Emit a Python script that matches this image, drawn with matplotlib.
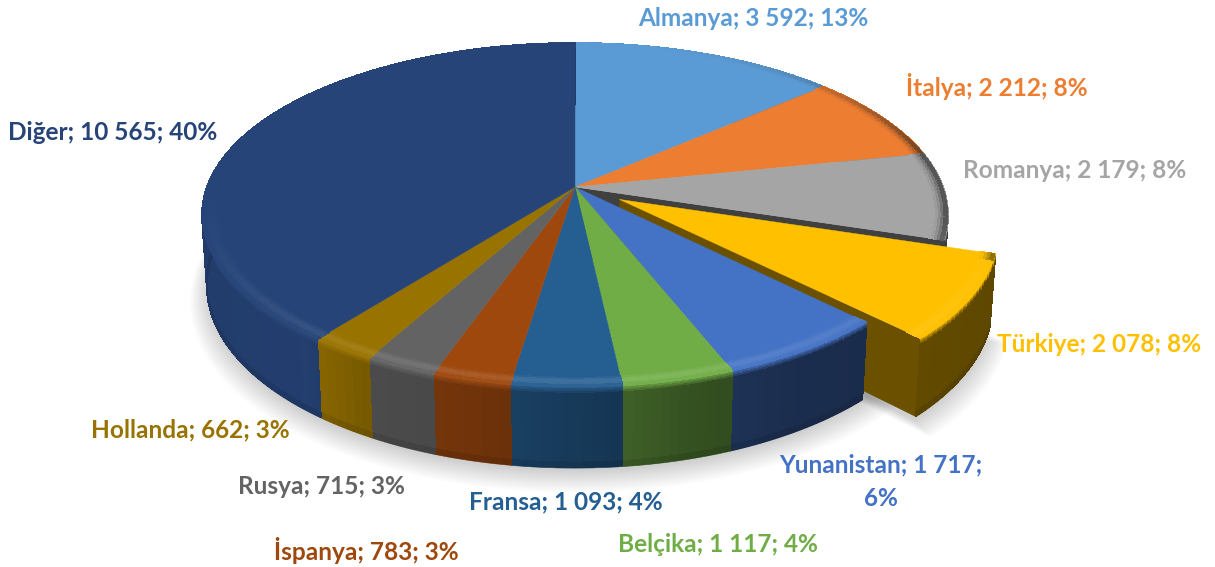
#!/usr/bin/env python3

import numpy as np
import matplotlib
matplotlib.use('Agg')
import matplotlib.pyplot as plt
from matplotlib.collections import PolyCollection
from matplotlib.colors import to_rgb

# Chart values
names  = ['Almanya', 'İtalya', 'Romanya', 'Türkiye', 'Yunanistan', 'Belçika',
          'Fransa', 'İspanya', 'Rusya', 'Hollanda', 'Diğer']
values = [3592, 2212, 2179, 2078, 1717, 1117, 1093, 783, 715, 662, 10565]
shares = [13, 8, 8, 8, 6, 4, 4, 3, 3, 3, 40]
colors = ['#5b9bd5', '#ed7d31', '#a5a5a5', '#ffc000', '#4472c4', '#70ad47',
          '#255e91', '#9e480e', '#636363', '#997300', '#264478']

# Where the labels sit (pixels)
label_x = [753, 997, 1075, 1099, 881, 718, 566, 366, 322, 190, 113]
label_y = [18, 86, 170, 344, 482, 544, 502, 550, 487, 430, 132]

EXPLODED = 3
EXPLODE_BY = 0.14

# Projection of the pie disc on the page
CX, CY = 575, 187
AX_U, AX_V = 368, 167.5
K = 0.163
DEPTH_M, DEPTH_H = 0.013, 71.4


def project(u, v, z=0.0):
    d = 1 + K * v + DEPTH_M * z
    return CX + AX_U * u / d, CY + (DEPTH_H * z - AX_V * v) / d


def arc(t0, t1, r=1.0, off=(0, 0), z=0.0, n=None):
    if n is None:
        n = max(3, int(abs(t1 - t0) * 60))
    t = np.linspace(t0, t1, n)
    return project(off[0] + r * np.sin(t), off[1] + r * np.cos(t), z)


def wall_factor(t):
    # how much light the side wall gets, by angle on the pie
    return np.interp(np.degrees(t), [90, 130, 150, 165, 178, 195, 208, 220, 270, 360],
                     [0.36, 0.38, 0.40, 0.47, 0.60, 0.72, 0.76, 0.92, 0.88, 0.88])


def mix(a, b, s):
    return tuple(np.array(a) * (1 - s) + np.array(b) * s)


def draw_wall(ax, t0, t1, color, off, zorder):
    base = np.array(to_rgb(color))

    # plain silhouette first so the outline stays smooth
    xt, yt = arc(t0, t1, off=off)
    xb, yb = arc(t0, t1, off=off, z=1.0)
    mid = tuple(base * wall_factor((t0 + t1) / 2))
    ax.fill(np.r_[xt, xb[::-1]], np.r_[yt, yb[::-1]], color=mid, lw=0.5, zorder=zorder)

    ts = np.linspace(t0, t1, max(3, int((t1 - t0) * 50)))
    zs = np.r_[np.linspace(0, 0.12, 7), 0.3, 0.6, 0.85, 0.93, 0.985]
    polys, cols = [], []
    for a, b in zip(ts[:-1], ts[1:]):
        wall = tuple(base * wall_factor((a + b) / 2))
        for z0, z1 in zip(zs[:-1], zs[1:]):
            xa0, ya0 = project(off[0] + np.sin(a), off[1] + np.cos(a), z0)
            xb0, yb0 = project(off[0] + np.sin(b), off[1] + np.cos(b), z0)
            xb1, yb1 = project(off[0] + np.sin(b), off[1] + np.cos(b), z1)
            xa1, ya1 = project(off[0] + np.sin(a), off[1] + np.cos(a), z1)
            polys.append([(xa0, ya0), (xb0, yb0), (xb1, yb1), (xa1, ya1)])
            # lighter just under the rounded edge, a bit darker at the floor
            s = (z0 + z1) / 2
            c = mix(mix(base, (1, 1, 1), 0.03), wall, min(1, s / 0.09))
            if s > 0.9:
                c = mix(c, (0, 0, 0), 0.10)
            cols.append(c)
    ax.add_collection(PolyCollection(polys, facecolors=cols, edgecolors='face',
                                     linewidths=0.6, antialiaseds=False, zorder=zorder))


def draw_top(ax, t0, t1, color, off, zorder):
    x, y = arc(t0, t1, off=off)
    ox, oy = project(off[0], off[1])
    ax.fill(np.r_[ox, x], np.r_[oy, y], color=color, lw=0.3, zorder=zorder)

    # rounded rim along the outer edge
    base = np.array(to_rgb(color))
    ts = np.linspace(t0, t1, max(3, int((t1 - t0) * 50)))
    rs = np.linspace(0.96, 0.998, 6)
    polys, cols = [], []
    for a, b in zip(ts[:-1], ts[1:]):
        m = (a + b) / 2
        front = np.clip(-np.cos(m), 0, 1) ** 1.5
        back = np.clip(np.sin(m) * (1 - abs(np.cos(m))) * 1.3, 0, 1) * (np.cos(m) > -0.35)
        for r0, r1 in zip(rs[:-1], rs[1:]):
            p = []
            for ang, r in ((a, r0), (b, r0), (b, r1), (a, r1)):
                p.append(project(off[0] + r * np.sin(ang), off[1] + r * np.cos(ang)))
            polys.append(p)
            s = ((r0 + r1) / 2 - 0.96) / 0.038
            c = mix(base, (1, 1, 1), 0.12 * front * np.sin(np.pi * s))
            c = mix(c, (0.1, 0.1, 0.1), 0.7 * back * s ** 2)
            cols.append(c)
    ax.add_collection(PolyCollection(polys, facecolors=cols, edgecolors='face',
                                     linewidths=0.5, antialiaseds=False, zorder=zorder + 0.1))


def draw_shadow(ax, angles):
    mid = (angles[EXPLODED] + angles[EXPLODED + 1]) / 2
    off = (EXPLODE_BY * np.sin(mid), EXPLODE_BY * np.cos(mid))
    for i in range(16):
        s = i / 15
        r = 1.045 - 0.05 * s
        x, y = arc(0, 2 * np.pi, r=r, z=1.0, n=200)
        ax.fill(x, y + 13 - 9 * s, color='black', alpha=0.012, lw=0, zorder=1)
        x, y = arc(angles[EXPLODED], angles[EXPLODED + 1], r=r, off=off, z=1.0)
        ox, oy = project(off[0], off[1], 1.0)
        ax.fill(np.r_[ox, x], np.r_[oy, y] + 13 - 9 * s, color='black',
                alpha=0.012, lw=0, zorder=1)


def label_text(name, value, share):
    txt = f'{value:,}'.replace(',', ' ')
    if name == 'Yunanistan':
        return f'{name}; {txt};\n{share}%'
    return f'{name}; {txt}; {share}%'


if __name__ == '__main__':

    fig = plt.figure(figsize=(12.15, 5.67), dpi=100)
    ax = fig.add_axes([0, 0, 1, 1])
    ax.set_xlim(0, 1215)
    ax.set_ylim(567, 0)
    ax.axis('off')

    angles = 2 * np.pi * np.r_[0, np.cumsum(values)] / np.sum(values)

    draw_shadow(ax, angles)

    # back part of the pie, then the pulled out slice, then the front part
    for i in range(EXPLODED):
        draw_wall(ax, angles[i], angles[i + 1], colors[i], (0, 0), 2)
        draw_top(ax, angles[i], angles[i + 1], colors[i], (0, 0), 4)

    # cut face left behind by the pulled out slice
    t = angles[EXPLODED]
    x0, y0 = project(0, 0)
    x1, y1 = project(np.sin(t), np.cos(t))
    x2, y2 = project(np.sin(t), np.cos(t), 1.0)
    x3, y3 = project(0, 0, 1.0)
    ax.fill([x0, x1, x2, x3], [y0, y1, y2, y3], color='#404040', lw=0, zorder=3)

    t0, t1 = angles[EXPLODED], angles[EXPLODED + 1]
    mid = (t0 + t1) / 2
    off = (EXPLODE_BY * np.sin(mid), EXPLODE_BY * np.cos(mid))
    ex, ey = project(off[0] + np.sin(t1), off[1] + np.cos(t1))
    ex2, ey2 = project(off[0] + np.sin(t1), off[1] + np.cos(t1), 1.0)
    ox, oy = project(off[0], off[1])
    ox2, oy2 = project(off[0], off[1], 1.0)
    ax.fill([ox, ex, ex2, ox2], [oy, ey, ey2, oy2], color='#6b5000', lw=0, zorder=5)
    draw_wall(ax, t0, t1, colors[EXPLODED], off, 6)
    draw_top(ax, t0, t1, colors[EXPLODED], off, 7)

    for i in range(EXPLODED + 1, len(values)):
        draw_wall(ax, angles[i], angles[i + 1], colors[i], (0, 0), 9)
    for i in range(EXPLODED + 1, len(values)):
        draw_top(ax, angles[i], angles[i + 1], colors[i], (0, 0), 10)

    for i in range(len(names)):
        ax.text(label_x[i], label_y[i], label_text(names[i], values[i], shares[i]),
                color=colors[i], fontsize=17.6, fontweight='bold', family='Lato',
                ha='center', va='center', linespacing=1.55, zorder=20)

    fig.savefig('out.png', dpi=100)
